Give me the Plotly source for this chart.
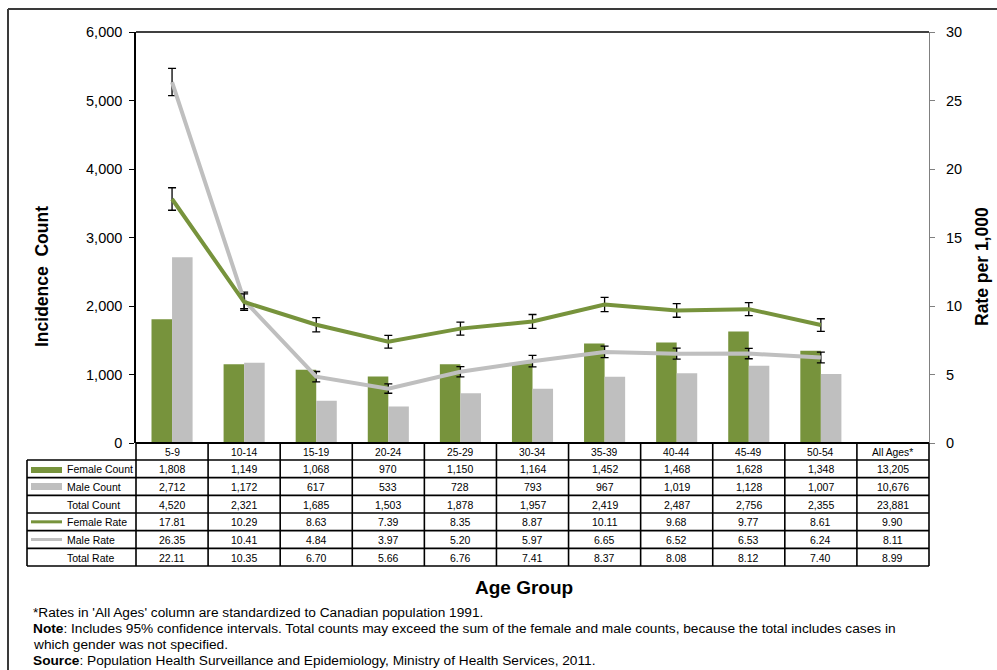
import plotly.graph_objects as go

# ---- data -------------------------------------------------------------
age_groups = ["5-9", "10-14", "15-19", "20-24", "25-29",
              "30-34", "35-39", "40-44", "45-49", "50-54"]
all_ages_label = "All Ages*"

female_count = [1808, 1149, 1068, 970, 1150, 1164, 1452, 1468, 1628, 1348]
male_count = [2712, 1172, 617, 533, 728, 793, 967, 1019, 1128, 1007]
total_count = [4520, 2321, 1685, 1503, 1878, 1957, 2419, 2487, 2756, 2355]

female_rate = [17.81, 10.29, 8.63, 7.39, 8.35, 8.87, 10.11, 9.68, 9.77, 8.61]
male_rate = [26.35, 10.41, 4.84, 3.97, 5.20, 5.97, 6.65, 6.52, 6.53, 6.24]
total_rate = [22.11, 10.35, 6.70, 5.66, 6.76, 7.41, 8.37, 8.08, 8.12, 7.40]

# 95% confidence interval half-widths of the rates
female_rate_ci = [0.82, 0.60, 0.52, 0.47, 0.48, 0.51, 0.52, 0.50, 0.47, 0.46]
male_rate_ci = [0.99, 0.60, 0.38, 0.34, 0.38, 0.42, 0.42, 0.40, 0.38, 0.39]

# "All Ages" column: female, male, total counts and rates
all_ages_counts = [13205, 10676, 23881]
all_ages_rates = [9.90, 8.11, 8.99]

row_labels = ["Female Count", "Male Count", "Total Count",
              "Female Rate", "Male Rate", "Total Rate"]

GREEN = "#77933C"
GREY = "#BFBFBF"
FONT = "Liberation Sans, Arial, sans-serif"

# ---- geometry (pixels) ------------------------------------------------
W, H = 997, 670
L, R, T, B = 136, 929, 32, 443
categories = age_groups + [all_ages_label]
ncol = len(categories)
col_w = (R - L) / ncol
label_left = 27
header_bottom = 460
row_h = (566 - header_bottom) / 6


def px(x):
    return (x - L) / (R - L)


def py(y):
    return (B - y) / (B - T)


fig = go.Figure()

fig.add_trace(go.Bar(x=age_groups, y=female_count, name="Female Count",
                     marker=dict(color=GREEN, line=dict(width=0))))
fig.add_trace(go.Bar(x=age_groups, y=male_count, name="Male Count",
                     marker=dict(color=GREY, line=dict(width=0))))

fig.add_trace(go.Scatter(
    x=age_groups, y=male_rate, yaxis="y2", mode="lines", name="Male Rate",
    line=dict(color=GREY, width=4),
    error_y=dict(type="data", array=male_rate_ci, color="#000000",
                 thickness=1.3, width=4)))
fig.add_trace(go.Scatter(
    x=age_groups, y=female_rate, yaxis="y2", mode="lines", name="Female Rate",
    line=dict(color=GREEN, width=4),
    error_y=dict(type="data", array=female_rate_ci, color="#000000",
                 thickness=1.3, width=4)))

shapes = []
annotations = []


def hline(x0, x1, y, color="#000000", width=1.6):
    shapes.append(dict(type="line", xref="paper", yref="paper",
                       x0=px(x0), x1=px(x1), y0=py(y), y1=py(y),
                       line=dict(color=color, width=width)))


def vline(x, y0, y1, color="#000000", width=1.6):
    shapes.append(dict(type="line", xref="paper", yref="paper",
                       x0=px(x), x1=px(x), y0=py(y0), y1=py(y1),
                       line=dict(color=color, width=width)))


def text(x, y, s, size=11, xanchor="center", yanchor="middle", angle=0):
    annotations.append(dict(
        xref="paper", yref="paper", x=px(x), y=py(y), text=s,
        showarrow=False, xanchor=xanchor, yanchor=yanchor, textangle=angle,
        font=dict(family=FONT, size=size, color="#000000")))


# outer frame of the chart
shapes.append(dict(type="line", xref="paper", yref="paper",
                   x0=px(8), x1=px(1000), y0=py(9), y1=py(9),
                   line=dict(color="#3a3a3a", width=2)))
shapes.append(dict(type="line", xref="paper", yref="paper",
                   x0=px(8), x1=px(8), y0=py(9), y1=py(672),
                   line=dict(color="#3a3a3a", width=2)))

# top edge of the plot area
hline(L, R, T, width=1.3)

# data table grid
row_edges = [header_bottom + i * row_h for i in range(7)]
hline(L, R, B, width=2)
for y in row_edges:
    hline(label_left, R, y)
vline(label_left, header_bottom, row_edges[-1])
for i in range(ncol + 1):
    vline(L + i * col_w, B, row_edges[-1])

# header row: category names
for i, c in enumerate(categories):
    text(L + (i + 0.5) * col_w, (B + header_bottom) / 2 + 0.5, c, size=10.3)

# body rows
count_rows = [female_count, male_count, total_count]
rate_rows = [female_rate, male_rate, total_rate]
for r in range(6):
    yc = row_edges[r] + row_h / 2 + 0.5
    if r < 3:
        vals = ["{:,}".format(v) for v in count_rows[r]]
        vals.append("{:,}".format(all_ages_counts[r]))
    else:
        vals = ["{:.2f}".format(v) for v in rate_rows[r - 3]]
        vals.append("{:.2f}".format(all_ages_rates[r - 3]))
    for i, v in enumerate(vals):
        text(L + (i + 0.5) * col_w, yc, v, size=10.5)
    text(64.5, yc, row_labels[r], size=10.5, xanchor="left")

# legend keys in the row-label cells
key_x0, key_x1 = 31, 62
shapes.append(dict(type="rect", xref="paper", yref="paper",
                   x0=px(key_x0), x1=px(key_x1), y0=py(473), y1=py(467),
                   fillcolor=GREEN, line=dict(width=0)))
shapes.append(dict(type="rect", xref="paper", yref="paper",
                   x0=px(key_x0), x1=px(key_x1), y0=py(490), y1=py(483),
                   fillcolor=GREY, line=dict(width=0)))
hline(key_x0, key_x1, row_edges[3] + row_h / 2, color=GREEN, width=3)
hline(key_x0, key_x1, row_edges[4] + row_h / 2, color=GREY, width=3)

# axis titles
text(42, 277, "<b>Incidence  Count</b>", size=17.5, angle=-90)
text(982, 267, "<b>Rate per 1,000</b>", size=17.5, angle=-90)
text(524, 587, "<b>Age Group</b>", size=19)

# footnotes
notes = [
    "*Rates in 'All Ages' column are standardized to Canadian population 1991.",
    "<b>Note</b>: Includes 95% confidence intervals. Total counts may exceed "
    "the sum of the female and male counts, because the total includes cases in",
    "which gender was not specified.",
    "<b>Source</b>: Population Health Surveillance and Epidemiology, "
    "Ministry of Health Services, 2011.",
]
for s, y in zip(notes, [612.5, 628.5, 644, 660]):
    text(31, y, s, size=13.7, xanchor="left")

fig.update_layout(
    width=W, height=H,
    margin=dict(l=L, r=W - R, t=T, b=H - B, pad=0),
    paper_bgcolor="#FFFFFF", plot_bgcolor="#FFFFFF",
    barmode="group", bargap=0.43, bargroupgap=0,
    showlegend=False,
    font=dict(family=FONT, color="#000000"),
    xaxis=dict(type="category", categoryorder="array",
               categoryarray=categories, range=[-0.5, ncol - 0.5],
               showticklabels=False, ticks="", showgrid=False,
               showline=False, zeroline=False),
    yaxis=dict(range=[0, 6000], dtick=1000, tickformat=",",
               showgrid=False, zeroline=False,
               showline=True, linecolor="#000000", linewidth=1.5,
               ticks="outside", ticklen=5, tickcolor="#000000", tickwidth=1,
               ticklabelstandoff=4,
               tickfont=dict(family=FONT, size=14.5, color="#000000")),
    yaxis2=dict(range=[0, 30], dtick=5, overlaying="y", side="right",
                showgrid=False, zeroline=False,
                showline=True, linecolor="#808080", linewidth=1.3,
                ticks="outside", ticklen=5, tickcolor="#808080", tickwidth=1,
                ticklabelstandoff=8,
                tickfont=dict(family=FONT, size=14.5, color="#000000")),
    shapes=shapes,
    annotations=annotations,
)

fig.write_html("out.html")
